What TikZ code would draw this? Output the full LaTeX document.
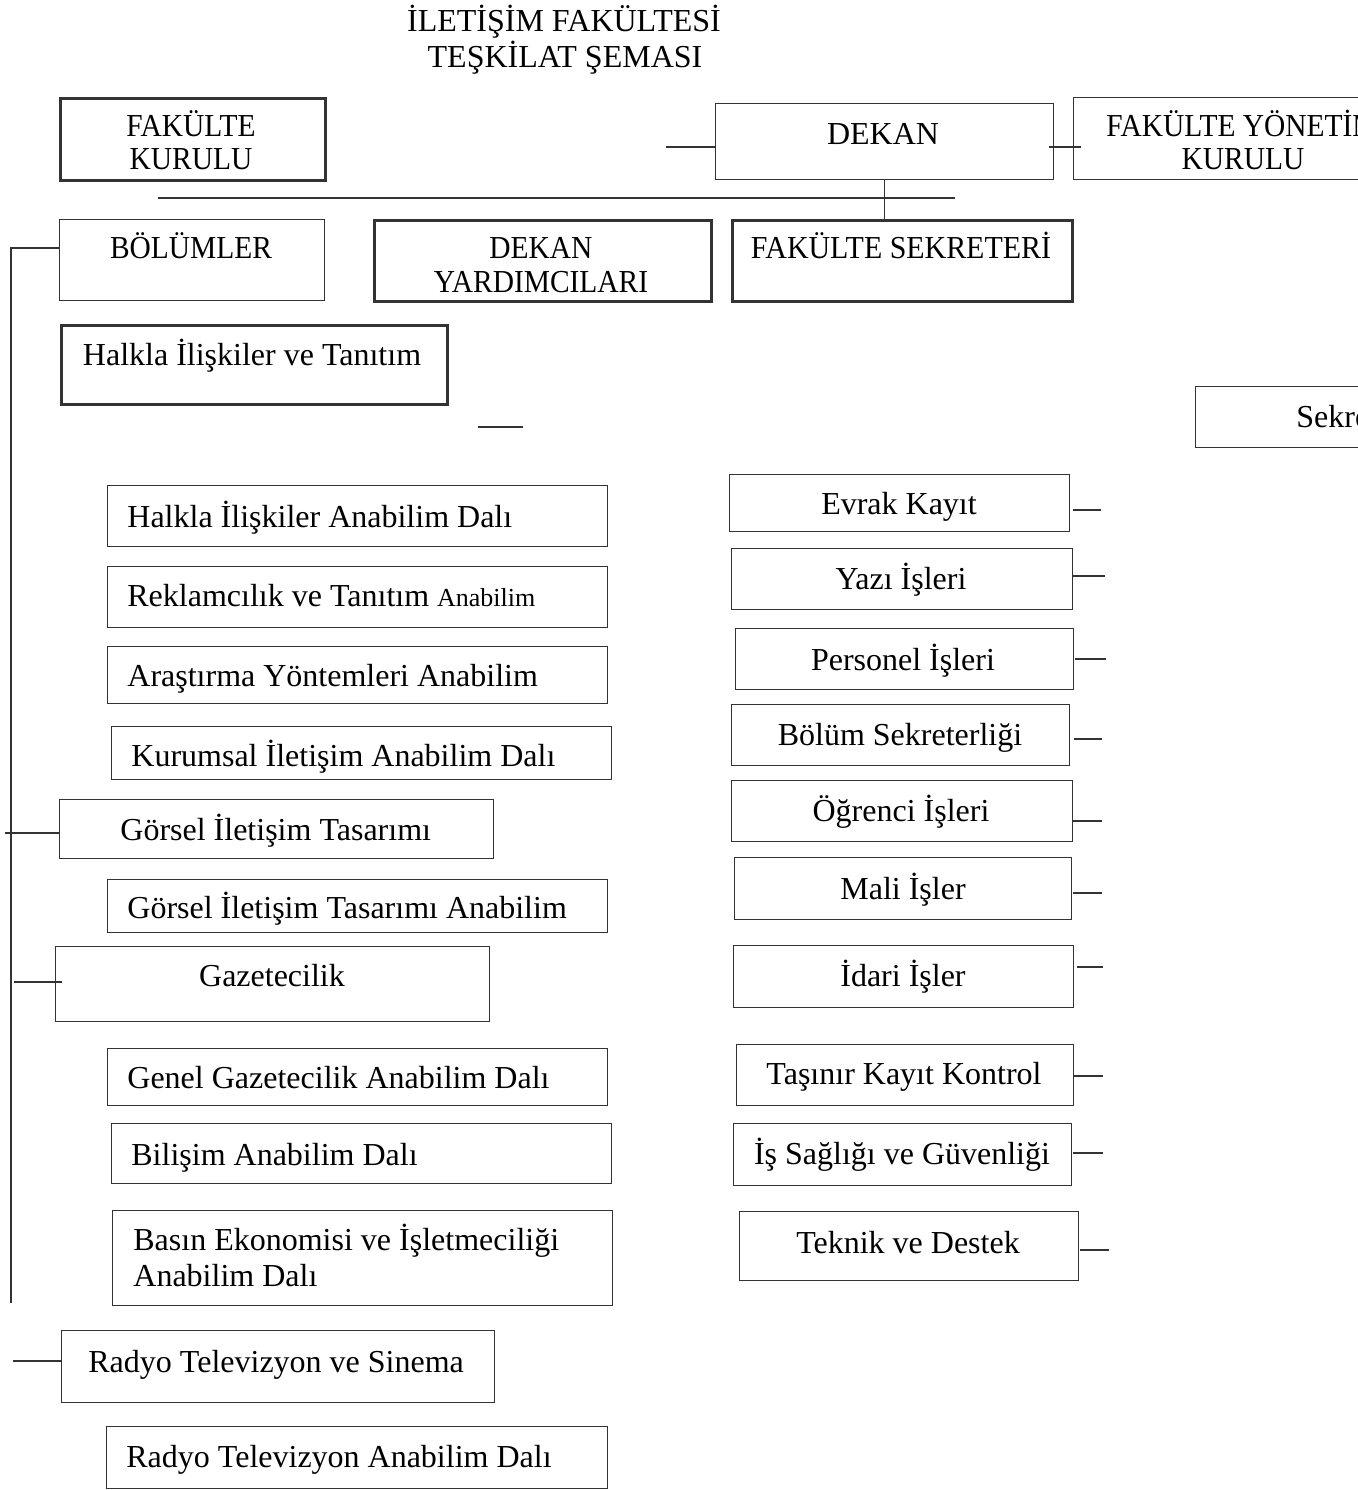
\documentclass[tikz,border=0pt]{standalone}
\usepackage{fontspec}
\setmainfont{Liberation Serif}
\newcommand{\mkbox}[6]{\node[#2, minimum width={(#5-#3)*0.5pt}, minimum height={(#6-#4)*0.5pt}] (#1) at (#3,#4) {};}
\begin{document}
\begin{tikzpicture}[x=0.5pt,y=-0.5pt,
  bx/.style={draw=black!80, line width=0.7pt, inner sep=0pt, anchor=north west},
  tbx/.style={bx, line width=1.3pt},
  tx/.style={inner sep=0pt, font=\fontsize{16}{19}\selectfont, text height=0.66em, text depth=0pt, yshift=-2.5pt},
  ctx/.style={tx, xscale=0.92},
  ln/.style={draw=black!80, line width=0.6pt}]
\path[use as bounding box, clip] (0,0) rectangle (1358,1490);
% title
\node[tx] (title1) at (564,20) {İLETİŞİM FAKÜLTESİ};
\node[tx] (title2) at (565,56) {TEŞKİLAT ŞEMASI};
% top row
\mkbox{fk}{tbx}{59}{97}{324}{179}
\node[ctx] (fkt1) at (191,125) {FAKÜLTE};
\node[ctx] (fkt2) at (191,158) {KURULU};
\mkbox{dek}{bx}{715}{103}{1053}{179}
\node[tx] (dekt) at (883,133) {DEKAN};
\mkbox{fyk}{bx}{1073}{97}{1413}{179}
\node[ctx, anchor=west] (fykt1) at (1106,125) {FAKÜLTE YÖNETİM};
\node[ctx] (fykt2) at (1243,158) {KURULU};
% second row
\mkbox{bol}{bx}{59}{219}{324}{300}
\node[ctx] (bolt) at (191,247) {BÖLÜMLER};
\mkbox{dy}{tbx}{373}{219}{710}{300}
\node[ctx] (dyt1) at (541,247) {DEKAN};
\node[ctx] (dyt2) at (541,281) {YARDIMCILARI};
\mkbox{fs}{tbx}{731}{219}{1071}{300}
\node[tx, xscale=0.935] (fst) at (901,247) {FAKÜLTE SEKRETERİ};
% departments
\mkbox{hit}{tbx}{60}{324}{446}{403}
\node[tx] (hitt) at (252,354) {Halkla İlişkiler ve Tanıtım};
\mkbox{sek}{bx}{1195}{386}{1420}{447}
\node[tx, anchor=west] (sekt) at (1296,416) {Sekreterlik};
\mkbox{a1}{bx}{107}{485}{607}{546}
\node[tx, anchor=west] (a1t) at (127,516) {Halkla İlişkiler Anabilim Dalı};
\mkbox{a2}{bx}{107}{566}{607}{627}
\node[tx, anchor=west] (a2t) at (127,595) {Reklamcılık ve Tanıtım {\fontsize{13}{15}\selectfont Anabilim}};
\mkbox{a3}{bx}{107}{646}{607}{703}
\node[tx, anchor=west] (a3t) at (127,675) {Araştırma Yöntemleri Anabilim};
\mkbox{a4}{bx}{111}{726}{611}{779}
\node[tx, anchor=west] (a4t) at (131,755) {Kurumsal İletişim Anabilim Dalı};
\mkbox{git}{bx}{59}{799}{493}{858}
\node[tx, anchor=west] (gitt) at (120,829) {Görsel İletişim Tasarımı};
\mkbox{a5}{bx}{107}{879}{607}{932}
\node[tx, anchor=west] (a5t) at (127,907) {Görsel İletişim Tasarımı Anabilim};
\mkbox{gaz}{bx}{55}{946}{489}{1021}
\node[tx] (gazt) at (272,975) {Gazetecilik};
\mkbox{a6}{bx}{107}{1048}{607}{1105}
\node[tx, anchor=west] (a6t) at (127,1077) {Genel Gazetecilik Anabilim Dalı};
\mkbox{a7}{bx}{111}{1123}{611}{1183}
\node[tx, anchor=west] (a7t) at (131,1154) {Bilişim Anabilim Dalı};
\mkbox{a8}{bx}{112}{1210}{612}{1305}
\node[tx, anchor=west] (a8t1) at (133,1239) {Basın Ekonomisi ve İşletmeciliği};
\node[tx, anchor=west] (a8t2) at (133,1275) {Anabilim Dalı};
\mkbox{rts}{bx}{61}{1330}{494}{1402}
\node[tx, anchor=west] (rtst) at (88,1361) {Radyo Televizyon ve Sinema};
\mkbox{a9}{bx}{106}{1426}{607}{1488}
\node[tx, anchor=west] (a9t) at (126,1456) {Radyo Televizyon Anabilim Dalı};
% secretariat units
\mkbox{r1}{bx}{729}{474}{1069}{531}
\node[tx] (r1t) at (899,503) {Evrak Kayıt};
\mkbox{r2}{bx}{731}{548}{1072}{609}
\node[tx] (r2t) at (901,578) {Yazı İşleri};
\mkbox{r3}{bx}{735}{628}{1073}{689}
\node[tx] (r3t) at (903,659) {Personel İşleri};
\mkbox{r4}{bx}{731}{704}{1069}{765}
\node[tx] (r4t) at (900,734) {Bölüm Sekreterliği};
\mkbox{r5}{bx}{731}{780}{1072}{841}
\node[tx] (r5t) at (901,810) {Öğrenci İşleri};
\mkbox{r6}{bx}{734}{857}{1071}{919}
\node[tx] (r6t) at (903,888) {Mali İşler};
\mkbox{r7}{bx}{733}{945}{1073}{1007}
\node[tx] (r7t) at (903,975) {İdari İşler};
\mkbox{r8}{bx}{736}{1044}{1073}{1105}
\node[tx] (r8t) at (904,1073) {Taşınır Kayıt Kontrol};
\mkbox{r9}{bx}{733}{1123}{1071}{1185}
\node[tx] (r9t) at (902,1153) {İş Sağlığı ve Güvenliği};
\mkbox{r10}{bx}{739}{1211}{1078}{1280}
\node[tx] (r10t) at (908,1242) {Teknik ve Destek};
% connectors
\coordinate (dl) at (666,147);
\draw[ln] (dl) -- (dek.west |- dl);
\coordinate (drA) at (1049,147);
\coordinate (drB) at (1081,147);
\draw[ln] (drA) -- (drB);
\draw[ln] (dek.south) -- (dek.south |- fs.north);
\coordinate (barL) at (158,198);
\coordinate (barR) at (955,198);
\draw[ln, line width=0.9pt] (barL) -- (barR);
\coordinate (busT) at (11,248);
\coordinate (busB) at (11,1303);
\draw[ln] (bol.west |- busT) -- (busT) -- (busB);
\coordinate (g0) at (5,833);
\draw[ln] (g0) -- (git.west |- g0);
\coordinate (gz0) at (14,982);
\coordinate (gz1) at (62,982);
\draw[ln] (gz0) -- (gz1);
\coordinate (rt0) at (13,1361);
\draw[ln] (rt0) -- (rts.west |- rt0);
\coordinate (sm0) at (478,427);
\coordinate (sm1) at (523,427);
\draw[ln, line width=0.9pt] (sm0) -- (sm1);
% right free connectors
\foreach \n/\a/\b/\y in {c1/1073/1101/510, c2/1072/1105/576, c3/1075/1106/659, c4/1074/1102/739, c5/1072/1102/821, c6/1073/1102/893, c7/1077/1103/967, c8/1073/1103/1076, c9/1073/1103/1153, c10/1080/1109/1250}{
  \coordinate (\n a) at (\a,\y);
  \coordinate (\n b) at (\b,\y);
  \draw[ln] (\n a) -- (\n b);
}
\end{tikzpicture}
\end{document}
